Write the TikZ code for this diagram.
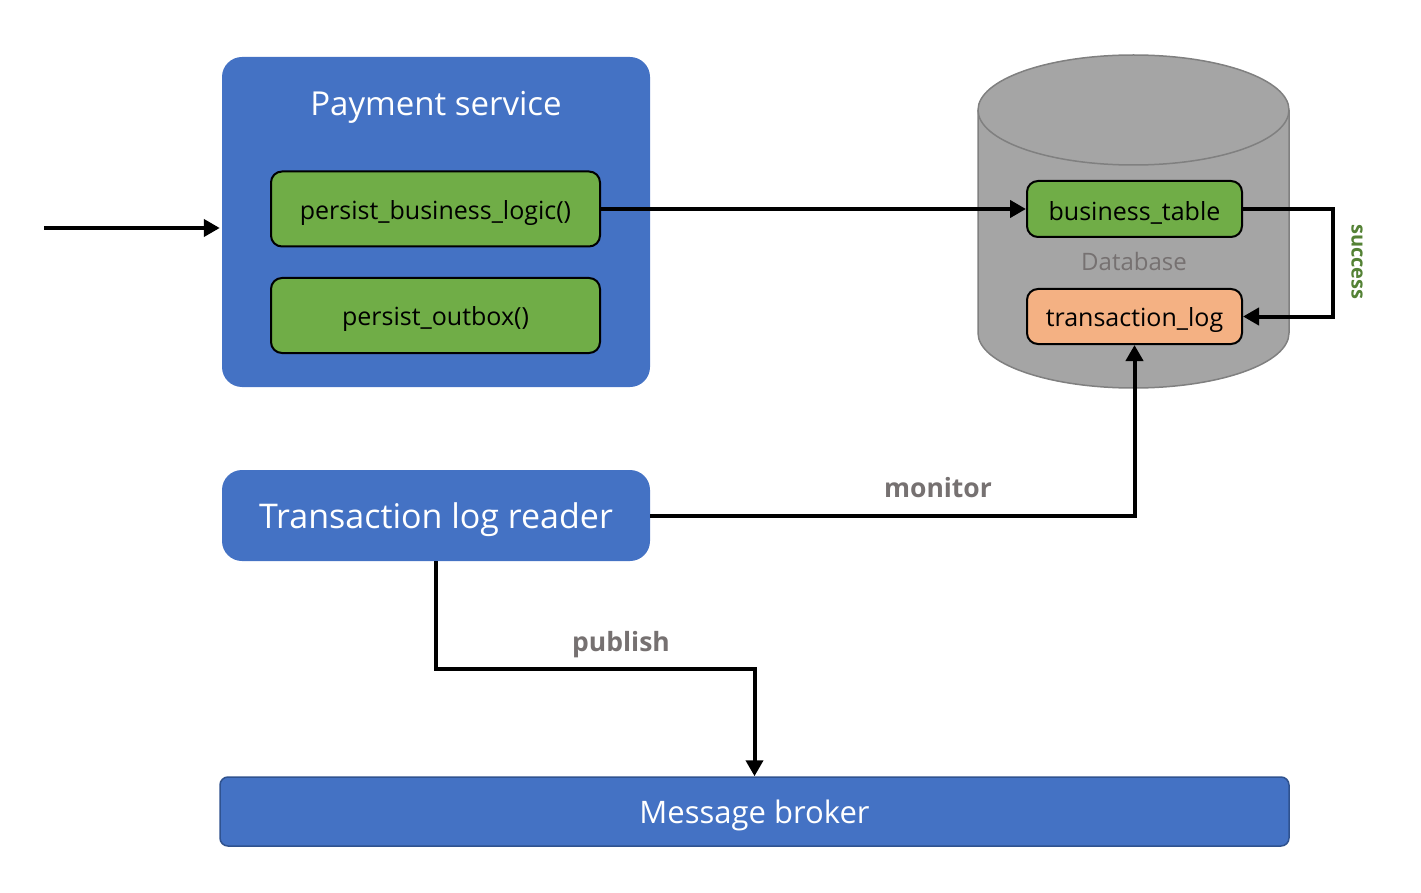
\documentclass[tikz,border=0pt]{standalone}
\usepackage{fontspec}
\setmainfont{Open Sans}
\usetikzlibrary{arrows.meta}
\newcommand\lowr[1]{\raisebox{-4pt}[\height][\depth]{#1}}
\definecolor{cblue}{HTML}{4472C4}
\definecolor{cgreen}{HTML}{70AD47}
\definecolor{corange}{HTML}{F4B183}
\definecolor{cgray}{HTML}{A5A5A5}
\definecolor{cgrayline}{HTML}{808080}
\definecolor{ctext}{HTML}{767171}
\definecolor{csucc}{HTML}{548235}
\definecolor{cbdark}{HTML}{2F528F}
\tikzset{
  x=1pt, y=-1pt,
  svcbox/.style={fill=cblue, draw=none, rounded corners=20pt, inner sep=0pt, text=white},
  fnbox/.style={fill=cgreen, draw=black, line width=2pt, rounded corners=11pt, inner sep=0pt, font=\fontsize{25}{29}\selectfont},
  arr/.style={line width=4pt, -{Triangle[length=16pt,width=17pt]}},
  lbl/.style={text=ctext, font=\bfseries\fontsize{26.5}{30}\selectfont, inner sep=0pt},
}
\begin{document}
\begin{tikzpicture}
\useasboundingbox (0,0) rectangle (1421,893);
% Payment service
\node[svcbox, minimum width=428pt, minimum height=330pt] (ps) at (436,222) {};
\node[text=white, font=\fontsize{33}{38}\selectfont, inner sep=0pt] (pst) at (436,107) {Payment service};
\node[fnbox, minimum width=329pt, minimum height=75pt] (pbl) at (435.5,209) {\lowr{persist\_business\_logic()}};
\node[fnbox, minimum width=329pt, minimum height=75pt] (po) at (435.5,315.5) {\lowr{persist\_outbox()}};
% Database cylinder
\fill[cgray] (978,110) rectangle (1289,333);
\fill[cgray] (1133.5,333) ellipse [x radius=155.5, y radius=55];
\draw[cgrayline, line width=1.5pt] (978,110) -- (978,333) arc[start angle=180, end angle=0, x radius=155.5, y radius=55] -- (1289,110);
\draw[cgrayline, line width=1.5pt, fill=cgray] (1133.5,110) ellipse [x radius=155.5, y radius=55];
\node[text=ctext, font=\fontsize{24}{28}\selectfont, inner sep=0pt] (dbl) at (1134,262) {Database};
\node[fnbox, minimum width=215pt, minimum height=56pt] (bt) at (1134.5,209) {\lowr{business\_table}};
\node[fnbox, fill=corange, minimum width=215pt, minimum height=55pt] (tl) at (1134.5,316.5) {\lowr{transaction\_log}};
% Transaction log reader
\node[svcbox, minimum width=428pt, minimum height=91pt, font=\fontsize{34}{40}\selectfont] (tlr) at (436,515.5) {\lowr{Transaction log reader}};
% Message broker
\node[fill=cblue, draw=cbdark, line width=1.5pt, rounded corners=8pt, text=white, minimum width=1069pt, minimum height=69pt, inner sep=0pt, font=\fontsize{31}{36}\selectfont] (mb) at (754.5,811.5) {\lowr{Message broker}};
% connectors
\coordinate (in) at (44,228);
\draw[arr, shorten >=2pt] (in) -- (in -| ps.west);
\draw[arr] (pbl.east) -- (bt.west);
\draw[arr] (bt.east) -- ++(90,0) |- (tl.east);
\node[text=csucc, font=\bfseries\fontsize{20}{24}\selectfont, rotate=-90, inner sep=0pt] (succ) at (1357,262) {success};
\draw[arr] (tlr.east) -| (tl.south);
\node[lbl] (mon) at (938,488) {monitor};
\coordinate (pb) at (436,669);
\draw[arr] (tlr.south) -- (pb) -| (mb.north);
\node[lbl] (pub) at (621,645) {publish};
\end{tikzpicture}
\end{document}
